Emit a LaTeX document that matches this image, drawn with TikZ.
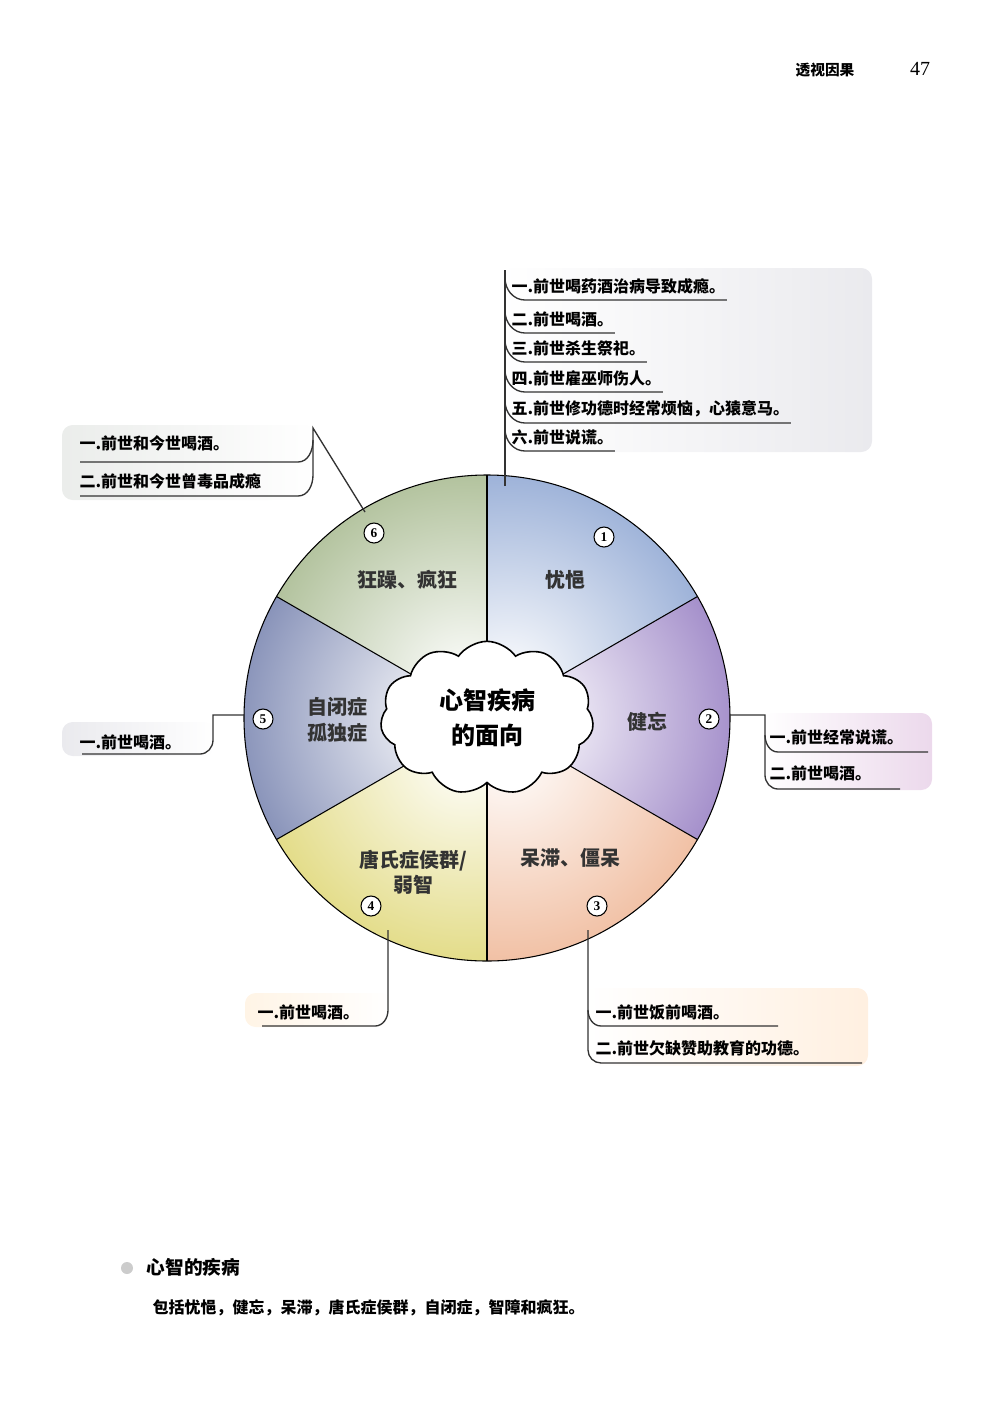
\documentclass[tikz,border=0pt]{standalone}
\usepackage{fontspec}
\setmainfont{Liberation Serif}
\newfontfamily\cjk{Noto Sans CJK SC}
\usetikzlibrary{shapes.symbols,calc}
\definecolor{cA}{RGB}{115,145,200}
\definecolor{cB}{RGB}{125,95,180}
\definecolor{cC}{RGB}{235,165,125}
\definecolor{cD}{RGB}{215,205,85}
\definecolor{cE}{RGB}{85,100,155}
\definecolor{cF}{RGB}{145,168,115}
\tikzset{
 item/.style={anchor=west,inner sep=1pt,font=\cjk\bfseries\fontsize{12}{14}\selectfont},
 lab/.style={align=center,font=\cjk\bfseries\fontsize{15}{19}\selectfont,text=black!80},
 num/.style={circle,draw,thick,fill=white,inner sep=0pt,minimum size=15pt,font=\bfseries\fontsize{10}{10}\selectfont},
 wire/.style={line width=1pt,black!80},
 boxsh/.style={rounded corners=8pt}
}
\begin{document}
\begin{tikzpicture}[x=0.75pt,y=-0.75pt]
\useasboundingbox (0,0) rectangle (1000,1415);
% header
\node[font=\cjk\bfseries\fontsize{11}{12}\selectfont] (hd) at (825,70) {透视因果};
\node[font=\fontsize{15}{16}\selectfont] (pg) at (920,69) {47};
% boxes backgrounds
\shade[boxsh,left color=white,right color=blue!10!gray!15] (500,268) rectangle (872,452);
\shade[boxsh,left color=green!5!gray!15,right color=white] (62,425) rectangle (316,500);
\shade[boxsh,left color=blue!10!gray!15,right color=white] (62,722) rectangle (215,756);
\shade[boxsh,left color=white,right color=violet!15] (762,713) rectangle (932,790);
\shade[boxsh,left color=yellow!15!orange!10,right color=white] (245,993) rectangle (392,1027);
\shade[boxsh,left color=white,right color=orange!12] (585,988) rectangle (868,1066);
% wheel
\coordinate (O) at (487,718);
\foreach \a/\c in {-90/cA,-30/cB,30/cC,90/cD,150/cE,210/cF}{
 \begin{scope}
 \clip (O) -- ++(\a:243) arc[start angle=\a,delta angle=60,radius=243] -- cycle;
 \shade[inner color=white,outer color=\c] ($(O)+(\a+30:40)$) circle (300);
 \end{scope}
}
\draw[thick] (O) circle (243);
\foreach \a in {90,30,-30,-90,-150,150}{\draw[thick] (O) -- ++(\a:243);}
\node[cloud,cloud puffs=11,cloud puff arc=110,aspect=1.35,draw,very thick,fill=white,minimum width=160pt,minimum height=115pt,
 font=\cjk\bfseries\fontsize{18}{26}\selectfont,align=center,inner sep=0pt] (core) at (O) {心智疾病\\的面向};
\node[lab] (l1) at (565,580) {忧悒};
\node[lab] (l2) at (647,722) {健忘};
\node[lab] (l3) at (570,858) {呆滞、僵呆};
\node[lab] (l4) at (413,872) {唐氏症侯群/\\弱智};
\node[lab] (l5) at (337,720) {自闭症\\孤独症};
\node[lab] (l6) at (407,580) {狂躁、疯狂};
\node[num] (n1) at (604,537) {1};
\node[num] (n2) at (709,719) {2};
\node[num] (n3) at (597,906) {3};
\node[num] (n4) at (371,906) {4};
\node[num] (n5) at (263,719) {5};
\node[num] (n6) at (374,533) {6};
% ---- 1: top right
\coordinate (a1) at (505,486);
\coordinate (a1t) at (505,270);
\draw[wire] (a1) -- (a1t);
\foreach \y/\t/\n in {286/{一.前世喝药酒治病导致成瘾。}/t1, 319/{二.前世喝酒。}/t2, 348/{三.前世杀生祭祀。}/t3, 378/{四.前世雇巫师伤人。}/t4, 409/{五.前世修功德时经常烦恼，心猿意马。}/t5, 437/{六.前世说谎。}/t6}{
 \node[item] (\n) at (510,\y) {\t};
 \draw[wire] (505,\y-8) to[out=-90,in=180] (525,\y+14) -- ($(\n.east)+(0,14)$);
}
% ---- 6: top left
\coordinate (b6) at (313,428);
\coordinate (s6) at (365,512);
\draw[wire] (s6) -- (b6) -- (313,475) to[out=-90,in=0] (298,496) -- (80,496);
\node[item] (u1) at (78,443) {一.前世和今世喝酒。};
\node[item] (u2) at (78,481) {二.前世和今世曾毒品成瘾};
\draw[wire] (313,440) to[out=-90,in=0] (298,462) -- (80,462);
% ---- 5
\coordinate (s5) at (244,715);
\draw[wire] (s5) -- (213,715) -- (213,740) to[out=-90,in=0] (200,754) -- (82,754);
\node[item] (v1) at (78,742) {一.前世喝酒。};
% ---- 2
\coordinate (s2) at (730,715);
\draw[wire] (s2) -- (765,715) -- (765,775) to[out=-90,in=180] (778,789) -- (900,789);
\draw[wire] (765,735) to[out=-90,in=180] (778,752) -- (928,752);
\node[item] (w1) at (768,737) {一.前世经常说谎。};
\node[item] (w2) at (768,773) {二.前世喝酒。};
% ---- 4
\coordinate (s4) at (388,930);
\draw[wire] (s4) -- (388,1010) to[out=-90,in=0] (375,1026) -- (262,1026);
\node[item] (x1) at (256,1012) {一.前世喝酒。};
% ---- 3
\coordinate (s3) at (588,930);
\draw[wire] (s3) -- (588,1050) to[out=-90,in=180] (601,1063) -- (862,1063);
\draw[wire] (588,1010) to[out=-90,in=180] (601,1026) -- (778,1026);
\node[item] (y1) at (594,1012) {一.前世饭前喝酒。};
\node[item] (y2) at (594,1048) {二.前世欠缺赞助教育的功德。};
% bottom
\fill[gray!40] (127,1268) circle (6);
\node[anchor=west,font=\cjk\bfseries\fontsize{14}{16}\selectfont] (bt) at (142,1267) {心智的疾病};
\node[anchor=west,font=\cjk\bfseries\fontsize{12}{14}\selectfont] (bb) at (148,1308) {包括忧悒，健忘，呆滞，唐氏症侯群，自闭症，智障和疯狂。};
\end{tikzpicture}
\end{document}
